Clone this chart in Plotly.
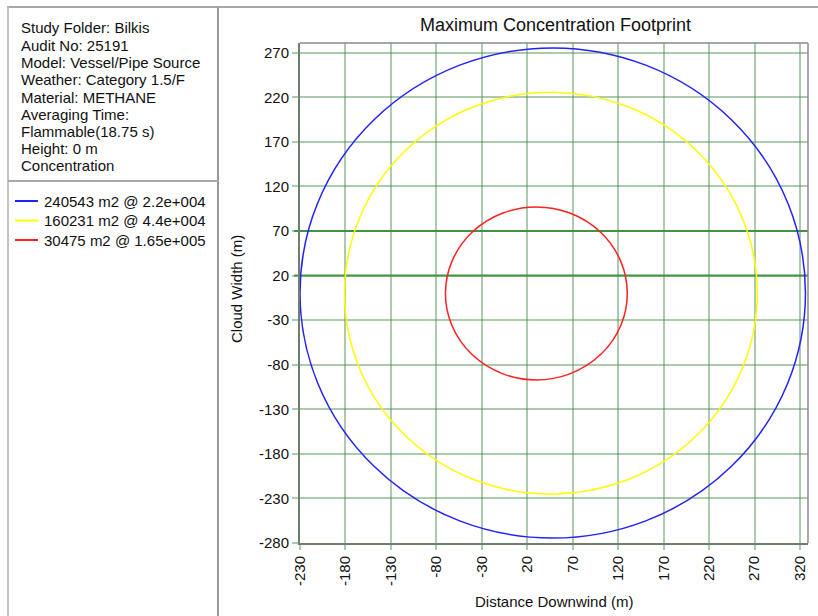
import plotly.graph_objects as go

W, H = 818, 616

# ---------------- data ----------------
info_lines = ["Study Folder: Bilkis", "Audit No: 25191", "Model: Vessel/Pipe Source",
              "Weather: Category 1.5/F", "Material: METHANE", "Averaging Time:",
              "Flammable(18.75 s)", "Height: 0 m", "Concentration"]
legend_labels = ["240543 m2 @ 2.2e+004", "160231 m2 @ 4.4e+004", "30475 m2 @ 1.65e+005"]
center_x = [48, 46, 30]          # m, downwind centre of each footprint
center_y = [0.5, 0.3, 0]         # m
half_width = [278, 227, 100]     # m
half_height = [275, 225.5, 97]   # m
x_ticks = [-230, -180, -130, -80, -30, 20, 70, 120, 170, 220, 270, 320]
y_ticks = [-280, -230, -180, -130, -80, -30, 20, 70, 120, 170, 220, 270]
dark_y_lines = [20, 70]

# ---------------- styles ----------------
colors = ["#2222ff", "#ffff00", "#ff2020"]
FONT = "Liberation Sans, Arial, sans-serif"
TXT = "#111111"
FS = 15

def px(x):
    return x / W

def py(y):
    return 1 - y / H

fig = go.Figure()
fig.add_trace(go.Scatter(x=[None], y=[None], showlegend=False, hoverinfo="skip"))

shapes = []
# footprints
for cx, cy, hw, hh, c in zip(center_x, center_y, half_width, half_height, colors):
    shapes.append(dict(type="circle", xref="x", yref="y",
                       x0=cx - hw, x1=cx + hw, y0=cy - hh, y1=cy + hh,
                       line=dict(color=c, width=1.5), layer="above"))
# darker horizontal grid lines
for yv in dark_y_lines:
    shapes.append(dict(type="line", xref="paper", yref="y", x0=px(294), x1=px(808),
                       y0=yv, y1=yv, line=dict(color="#3f9a3f", width=2), layer="below"))

# left panel frame
grey = "#a8a8a8"
shapes += [
    dict(type="line", xref="paper", yref="paper", x0=px(7), x1=1, y0=py(7), y1=py(7),
         line=dict(color=grey, width=2)),
    dict(type="line", xref="paper", yref="paper", x0=px(8), x1=px(8), y0=py(7), y1=0,
         line=dict(color="#c4c4c4", width=2)),
    dict(type="line", xref="paper", yref="paper", x0=px(218), x1=px(218), y0=py(7), y1=0,
         line=dict(color="#9a9a9a", width=2)),
    dict(type="line", xref="paper", yref="paper", x0=px(8), x1=px(218), y0=py(181), y1=py(181),
         line=dict(color=grey, width=2)),
]

annotations = []
# info text
for i, t in enumerate(info_lines):
    annotations.append(dict(text=t, xref="paper", yref="paper", x=px(19), y=py(28 + i * 17.25),
                            xanchor="left", yanchor="middle", showarrow=False,
                            font=dict(family=FONT, size=FS, color=TXT)))
# legend
for i, (t, c) in enumerate(zip(legend_labels, colors)):
    yy = 201 + i * 19.5
    shapes.append(dict(type="line", xref="paper", yref="paper", x0=px(15), x1=px(38),
                       y0=py(yy), y1=py(yy), line=dict(color=c, width=2)))
    annotations.append(dict(text=t, xref="paper", yref="paper", x=px(42), y=py(yy),
                            xanchor="left", yanchor="middle", showarrow=False,
                            font=dict(family=FONT, size=FS, color=TXT)))
# title and axis titles
annotations.append(dict(text="Maximum Concentration Footprint", xref="paper", yref="paper",
                        x=px(555), y=py(25), xanchor="center", yanchor="middle", showarrow=False,
                        font=dict(family=FONT, size=18, color=TXT)))
annotations.append(dict(text="Distance Downwind (m)", xref="paper", yref="paper",
                        x=px(554), y=py(601), xanchor="center", yanchor="middle", showarrow=False,
                        font=dict(family=FONT, size=FS, color=TXT)))
annotations.append(dict(text="Cloud Width (m)", xref="paper", yref="paper", textangle=-90,
                        x=px(237), y=py(289), xanchor="center", yanchor="middle", showarrow=False,
                        font=dict(family=FONT, size=FS, color=TXT)))

grid_col = "rgba(70,140,70,0.45)"
fig.update_layout(
    width=W, height=H, margin=dict(l=0, r=0, t=0, b=0),
    paper_bgcolor="white", plot_bgcolor="white", showlegend=False,
    font=dict(family=FONT, size=FS, color=TXT),
    shapes=shapes, annotations=annotations,
    xaxis=dict(domain=[px(300), px(808)], range=[-230, 328.8], tickvals=x_ticks,
               ticktext=[str(v) for v in x_ticks],
               tickangle=-90, showgrid=True, gridcolor=grid_col, gridwidth=2,
               zeroline=False, showline=True, linecolor="#6f7f6f", linewidth=2, mirror=False,
               ticks="outside", ticklen=5, tickcolor=grid_col, tickwidth=2,
               automargin=False, tickfont=dict(family=FONT, size=FS, color=TXT)),
    yaxis=dict(domain=[py(543), py(43)], range=[-280, 281], tickvals=y_ticks,
               ticktext=[str(v) for v in y_ticks],
               showgrid=True, gridcolor=grid_col, gridwidth=2,
               zeroline=False, showline=True, linecolor="#6f7f6f", linewidth=2, mirror=False,
               ticks="outside", ticklen=6, tickcolor=grid_col, tickwidth=2,
               automargin=False, tickfont=dict(family=FONT, size=FS, color=TXT)),
)
# top/right border of plot
fig.add_shape(type="line", xref="paper", yref="paper", x0=px(300), x1=px(808), y0=py(43), y1=py(43),
              line=dict(color="#8a8a8a", width=1.5))
fig.add_shape(type="line", xref="paper", yref="paper", x0=px(808), x1=px(808), y0=py(43), y1=py(543),
              line=dict(color="#8a8a8a", width=1.5))

fig.write_html("out.html")
